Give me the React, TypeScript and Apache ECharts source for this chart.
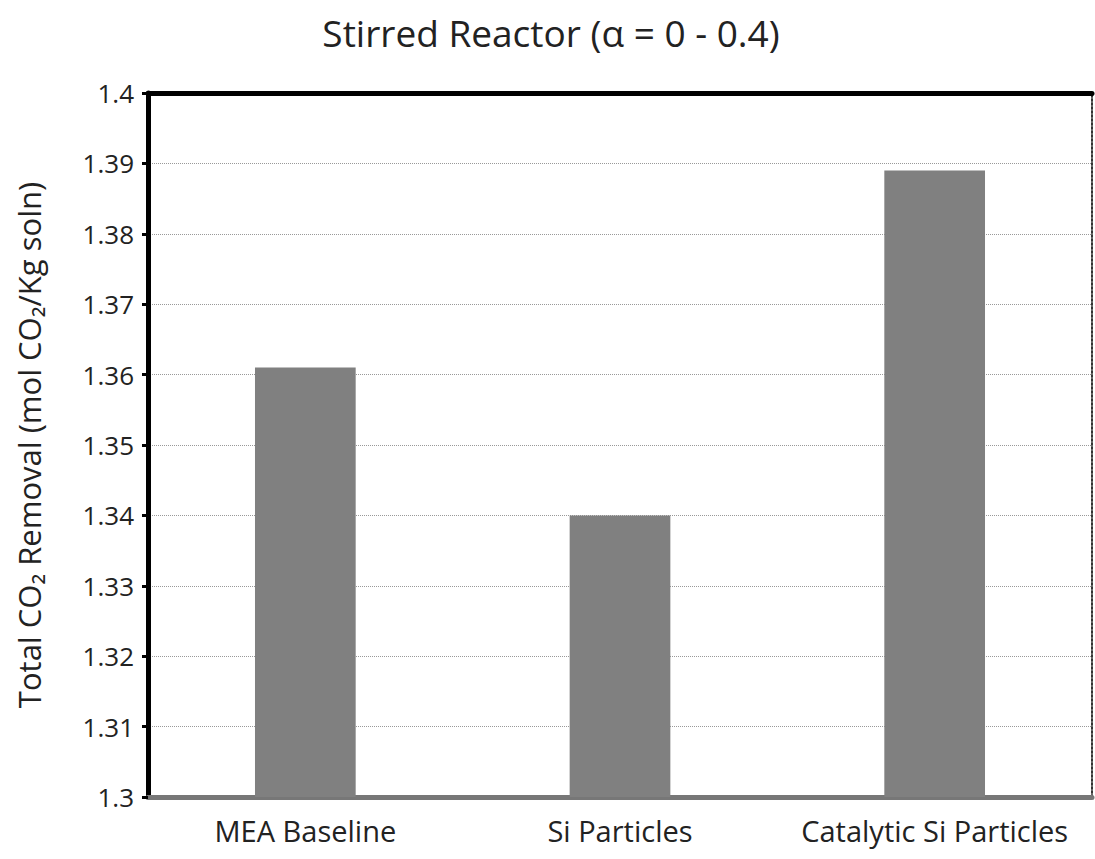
import React, { useEffect, useRef } from "react";
import * as echarts from "echarts";

const categories = ["MEA Baseline", "Si Particles", "Catalytic Si Particles"];
const removal = [1.361, 1.340, 1.389];
const titleText = "Stirred Reactor (\u03b1 = 0 - 0.4)";
const yName = "Total CO\u2082 Removal (mol CO\u2082/Kg soln)";

export default function App() {
  const ref = useRef<HTMLDivElement>(null);
  useEffect(() => {
    const chart = echarts.init(ref.current!, null, { renderer: "svg" });
    const font = "'Open Sans', Lato, sans-serif";
    chart.setOption({
      animation: false,
      backgroundColor: "#ffffff",
      title: {
        text: titleText,
        left: 546,
        textAlign: "center",
        top: 9,
        textStyle: { fontFamily: font, fontWeight: "normal", fontSize: 37, color: "#222" },
      },
      grid: { left: 148, right: 3, top: 93, bottom: 62, containLabel: false },
      xAxis: [
        {
          type: "category",
          data: categories,
          axisLine: { lineStyle: { color: "#777", width: 5 } },
          axisTick: { show: false },
          axisLabel: { fontFamily: font, fontSize: 29, color: "#222", margin: 19, interval: 0 },
        },
        {
          type: "category",
          position: "top",
          data: categories,
          axisLine: { lineStyle: { color: "#000", width: 5 } },
          axisTick: { show: false },
          axisLabel: { show: false },
        },
      ],
      yAxis: [
        {
          type: "value",
          min: 1.3,
          max: 1.4,
          interval: 0.01,
          name: yName,
          nameLocation: "middle",
          nameGap: 104,
          nameTextStyle: { fontFamily: font, fontSize: 31, color: "#222" },
          axisLine: { show: true, lineStyle: { color: "#000", width: 5 } },
          axisTick: { show: true, length: 6, lineStyle: { color: "#000", width: 3 } },
          axisLabel: {
            fontFamily: font,
            fontSize: 26,
            color: "#222",
            margin: 14,
            formatter: (v: number) => String(parseFloat(v.toFixed(2))),
          },
          splitLine: { lineStyle: { color: "#999", type: "dotted", width: 1 } },
        },
        {
          type: "value",
          position: "right",
          min: 1.3,
          max: 1.4,
          interval: 0.01,
          axisLine: { show: true, lineStyle: { color: "#333", width: 2, type: "dotted" } },
          axisTick: { show: false },
          axisLabel: { show: false },
          splitLine: { show: false },
        },
      ],
      series: [
        {
          type: "bar",
          data: removal,
          barWidth: "32%",
          itemStyle: { color: "#808080" },
        },
      ],
    });
    return () => chart.dispose();
  }, []);
  return <div ref={ref} style={{ width: 1095, height: 859, position: "absolute", left: 0, top: 0 }} />;
}
